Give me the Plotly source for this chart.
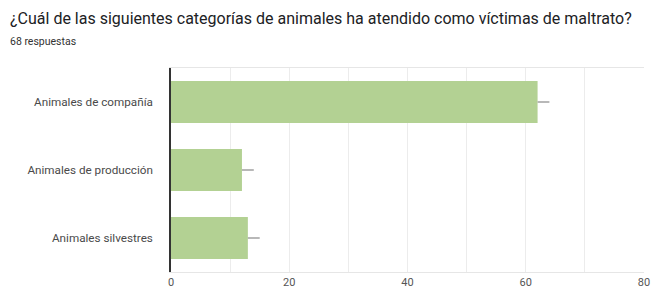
import plotly.graph_objects as go

categories = ["Animales de compañía", "Animales de producción", "Animales silvestres"]
values = [62, 12, 13]
err_plus = [2, 2, 2]
x_ticks = [0, 20, 40, 60, 80]

title_text = "¿Cuál de las siguientes categorías de animales ha atendido como víctimas de maltrato?"
subtitle_text = "68 respuestas"

W, H = 651, 290
L, R, T, B = 171, 7, 68, 18
pw = W - L - R
ph = H - T - B

fig = go.Figure(go.Bar(
    x=values, y=categories, orientation="h",
    marker=dict(color="#b3d193", line=dict(width=0)),
    width=0.62,
    error_x=dict(type="data", symmetric=False, array=err_plus,
                 arrayminus=[0] * len(values), color="#a0a0a0",
                 thickness=1.5, width=0),
))

fig.update_layout(
    width=W, height=H,
    margin=dict(l=L, r=R, t=T, b=B, pad=0),
    paper_bgcolor="white", plot_bgcolor="white",
    font=dict(family="Roboto, Arial, sans-serif", color="#444"),
    showlegend=False,
    bargap=0.38,
    xaxis=dict(range=[0, 80], tickvals=x_ticks, automargin=False,
               showgrid=True, gridcolor="#ececec", gridwidth=1,
               zeroline=False, showline=True, linecolor="#e6e6e6",
               linewidth=1, mirror=True,
               tickfont=dict(size=11, color="#555"), ticks="",
               minor=dict(dtick=10, showgrid=True, gridcolor="#ececec")),
    yaxis=dict(autorange="reversed", showgrid=False, zeroline=False,
               automargin=False,
               showline=True, linecolor="#333", linewidth=1.5,
               ticks="", ticklabelstandoff=14,
               tickfont=dict(size=11.7, color="#4a4a4a")),
    annotations=[
        dict(text=title_text, xref="paper", yref="paper",
             x=(8 - L) / pw, y=(H - B - 18) / ph, xanchor="left", yanchor="middle",
             showarrow=False, font=dict(size=16, color="#202124")),
        dict(text=subtitle_text, xref="paper", yref="paper",
             x=(8 - L) / pw, y=(H - B - 41) / ph, xanchor="left", yanchor="middle",
             showarrow=False, font=dict(size=10.5, color="#333")),
    ],
)

fig.write_html("out.html", config={"displayModeBar": False},
               post_script="document.body.style.margin='0px';document.body.style.overflow='hidden';")
